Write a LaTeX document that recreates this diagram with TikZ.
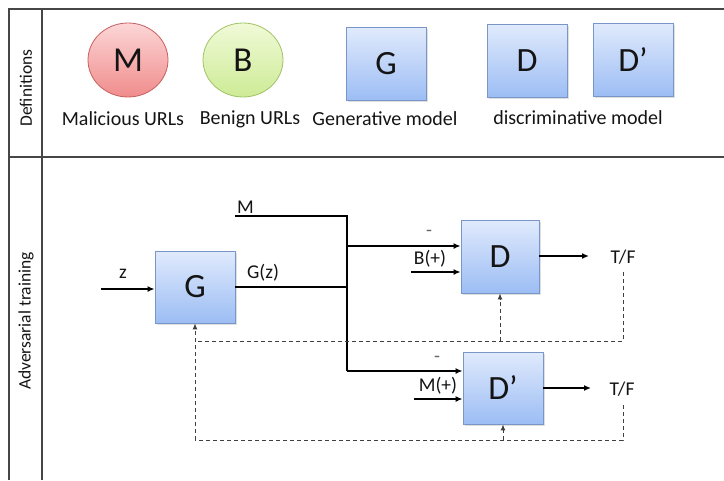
\documentclass[tikz,border=0pt]{standalone}
\usepackage{fontspec}
\setmainfont{Carlito}
\usetikzlibrary{shapes.geometric,arrows.meta,shadows}
\definecolor{frame}{RGB}{70,70,70}
\definecolor{redfillA}{RGB}{252,214,214}
\definecolor{redfillB}{RGB}{240,140,140}
\definecolor{redline}{RGB}{200,95,95}
\definecolor{grnfillA}{RGB}{240,250,215}
\definecolor{grnfillB}{RGB}{205,235,150}
\definecolor{grnline}{RGB}{160,195,100}
\definecolor{bluA}{RGB}{224,234,252}
\definecolor{bluB}{RGB}{156,189,244}
\definecolor{bluline}{RGB}{120,150,200}
\definecolor{txt}{RGB}{20,20,20}
\tikzset{
  urlnode/.style={ellipse, minimum width=80pt, minimum height=74pt, inner sep=0pt, font=\fontsize{35}{35}\selectfont, text=txt},
  mal/.style={urlnode, draw=redline, line width=0.8pt, top color=redfillA, bottom color=redfillB},
  ben/.style={urlnode, draw=grnline, line width=0.8pt, top color=grnfillA, bottom color=grnfillB},
  model/.style={rectangle, draw=bluline, line width=0.8pt, top color=bluA, bottom color=bluB, minimum width=80pt, minimum height=73pt, inner sep=0pt, font=\fontsize{34}{34}\selectfont, text=txt, drop shadow={opacity=0.25, shadow xshift=1.5pt, shadow yshift=-1.5pt}},
  deflabel/.style={font=\fontsize{20}{20}\selectfont, text=txt, inner sep=0pt},
  sidelabel/.style={font=\fontsize{17.5}{17.5}\selectfont, text=txt, rotate=90, inner sep=0pt},
  sig/.style={font=\fontsize{19.5}{19.5}\selectfont, text=txt, inner sep=0pt},
  flow/.style={line width=1.8pt, black},
  flowarr/.style={flow, -{Latex[length=7pt,width=6pt]}},
  fb/.style={line width=1pt, black!75, dash pattern=on 4pt off 3pt},
  fbarr/.style={fb, -{Latex[length=6pt,width=5pt]}},
}
\begin{document}
\begin{tikzpicture}[x=1pt,y=-1pt]
\useasboundingbox (0,0) rectangle (724,480);
% frame
\draw[frame, line width=1.3pt] (9,480) -- (9,9) -- (724,9);
\draw[frame, line width=1.3pt] (42,9) -- (42,480);
\draw[frame, line width=1.3pt] (9,157) -- (724,157);
\node[sidelabel] (defs) at (26,88) {Definitions};
\node[sidelabel] (adv) at (26,321) {Adversarial training};
% definitions
\node[mal] (cM) at (128,60) {M};
\node[ben] (cB) at (243,60) {B};
\node[model] (dG) at (386,64) {G};
\node[model] (dD) at (527,61) {D};
\node[model] (dDp) at (633,60) {D’};
\node[deflabel] (lM) at (123,119) {Malicious URLs};
\node[deflabel] (lB) at (250,119) {Benign URLs};
\node[deflabel] (lG) at (385,119) {Generative model};
\node[deflabel] (lD) at (578,118) {discriminative model};
% adversarial training
\node[model, minimum height=72pt] (G) at (195,287) {G};
\node[model, minimum width=78pt] (D) at (500,256.5) {D};
\node[model, minimum height=72pt] (Dp) at (503,388) {D’};
\coordinate (zin) at (101,289);
\node[sig] (lz) at (123,274) {z};
\draw[flowarr] (zin) -- (zin -| G.west);
\coordinate (mstart) at (235,216);
\node[sig, anchor=south west] (lMin) at (237,214) {M};
\coordinate (jtop) at (347,216);
\coordinate (jD) at (347,246);
\coordinate (jG) at (347,287);
\coordinate (jDp) at (347,371);
\draw[flow] (mstart) -- (jtop) -- (jDp);
\draw[flow] (G.east |- jG) -- (jG);
\node[sig] (lGz) at (263,273) {G(z)};
\draw[flowarr] (jD) -- (jD -| D.west);
\draw[flowarr] (jDp) -- (jDp -| Dp.west);
\node[sig, text=black!60] (minus1) at (429,233) {-};
\node[sig, text=black!60] (minus2) at (437,359) {-};
\coordinate (bin) at (411,272);
\node[sig] (lB2) at (430,259) {B(+)};
\draw[flowarr] (bin) -- (bin -| D.west);
\coordinate (min) at (414,399);
\node[sig] (lM2) at (438,386) {M(+)};
\draw[flowarr] (min) -- (min -| Dp.west);
% outputs
\node[sig] (tf1) at (623,257) {T/F};
\node[sig] (tf2) at (622,389) {T/F};
\coordinate (o1) at (589,256);
\coordinate (o2) at (591,388);
\draw[flowarr, line width=1.6pt] (D.east |- o1) -- (o1);
\draw[flowarr, line width=1.6pt] (Dp.east |- o2) -- (o2);
% feedback
\coordinate (f1r) at (623,341);
\coordinate (f1l) at (195,341);
\coordinate (f1d) at (500,341);
\coordinate (f2r) at (623,440);
\coordinate (f2l) at (195,440);
\coordinate (f2d) at (503,440);
\draw[fb] (623,272) -- (f1r) -- (f1l);
\draw[fbarr] (f1d) -- (D.south);
\draw[fb] (623,405) -- (f2r) -- (f2l);
\draw[fbarr] (f2l) -- (G.south);
\draw[fbarr] (f2d) -- (Dp.south);
\end{tikzpicture}
\end{document}
